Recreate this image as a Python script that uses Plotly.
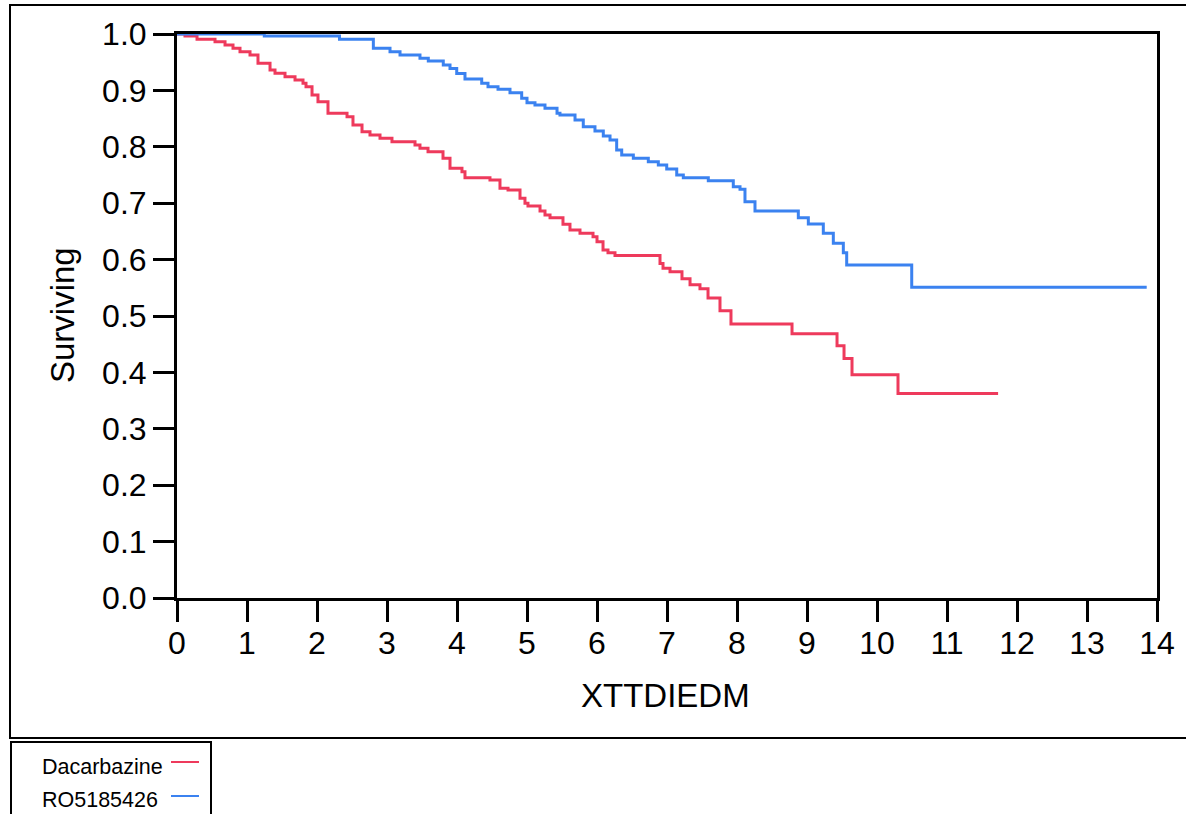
import plotly.graph_objects as go

# ---- data ----
dac_time = [0, 0.114, 0.286, 0.543, 0.686, 0.800, 0.900, 1.043, 1.157, 1.329, 1.400, 1.543,
            1.686, 1.800, 1.843, 1.929, 2.014, 2.157, 2.429, 2.514, 2.643, 2.757, 2.900,
            3.071, 3.400, 3.471, 3.586, 3.800, 3.900, 4.071, 4.114, 4.471, 4.614, 4.729,
            4.900, 4.971, 5.014, 5.186, 5.257, 5.329, 5.514, 5.614, 5.757, 5.943, 6.000,
            6.086, 6.157, 6.257, 6.900, 6.943, 7.043, 7.214, 7.329, 7.471, 7.586, 7.757,
            7.914, 8.786, 9.429, 9.529, 9.643, 10.300, 11.73]
dac_surv = [1.0, 0.9965, 0.9906, 0.9863, 0.9805, 0.9747, 0.9686, 0.9628, 0.948, 0.9362, 0.9303,
            0.9243, 0.9184, 0.9126, 0.9066, 0.8918, 0.880, 0.8594, 0.8534, 0.8387, 0.8268,
            0.8209, 0.8151, 0.8090, 0.8032, 0.7973, 0.7913, 0.7796, 0.7619, 0.7559, 0.7453,
            0.7411, 0.7264, 0.7234, 0.7087, 0.6998, 0.695, 0.6862, 0.6791, 0.6743, 0.6626,
            0.6525, 0.6466, 0.6407, 0.6318, 0.617, 0.6123, 0.6072, 0.5933, 0.5845, 0.5785,
            0.566, 0.5555, 0.5484, 0.5319, 0.5093, 0.4858, 0.4686, 0.4471, 0.4248, 0.3959,
            0.3624, 0.3624]

ro_time = [0, 1.247, 2.321, 2.805, 3.043, 3.186, 3.471, 3.590, 3.804, 3.900, 3.996, 4.114,
           4.353, 4.443, 4.586, 4.757, 4.924, 5.000, 5.114, 5.257, 5.429, 5.471, 5.686,
           5.804, 5.971, 6.090, 6.186, 6.281, 6.353, 6.519, 6.733, 6.876, 6.996, 7.139,
           7.233, 7.590, 7.947, 8.043, 8.114, 8.257, 8.876, 9.019, 9.233, 9.376, 9.519,
           9.567, 10.496, 13.853]
ro_surv = [1.0, 0.9965, 0.9905, 0.9747, 0.9686, 0.9628, 0.9569, 0.952, 0.945, 0.939, 0.930,
           0.920, 0.9126, 0.9066, 0.902, 0.896, 0.886, 0.878, 0.8741, 0.8682, 0.8594, 0.8564,
           0.8475, 0.8357, 0.828, 0.8191, 0.812, 0.7943, 0.7855, 0.7796, 0.7736, 0.7677,
           0.7606, 0.75, 0.7453, 0.7399, 0.7293, 0.7247, 0.7027, 0.6862, 0.6743, 0.6631,
           0.6466, 0.6289, 0.6123, 0.5904, 0.551, 0.551]

series_names = ["Dacarbazine", "RO5185426"]
series_colors = ["#EE3A5C", "#3B82F0"]
x_ticks = list(range(0, 15))
y_ticks = [round(i * 0.1, 1) for i in range(11)]

# ---- layout geometry ----
W, H = 1186, 814
L, R, T, B = 177, 1157, 34, 598  # plot area in pixels


def px(x):
    return (x - L) / (R - L)


def py(y):
    return (B - y) / (B - T)


FONT = "Liberation Sans, Arial, sans-serif"

fig = go.Figure()
fig.add_trace(go.Scatter(x=dac_time, y=dac_surv, mode="lines", line_shape="hv",
                         line=dict(color=series_colors[0], width=3), name=series_names[0],
                         showlegend=False))
fig.add_trace(go.Scatter(x=ro_time, y=ro_surv, mode="lines", line_shape="hv",
                         line=dict(color=series_colors[1], width=3), name=series_names[1],
                         showlegend=False))

axis_common = dict(showline=True, linecolor="black", linewidth=3, mirror=True,
                   ticks="outside", ticklen=21, tickwidth=3, tickcolor="black",
                   showgrid=False, zeroline=False,
                   tickfont=dict(family=FONT, size=32, color="black"))

fig.update_xaxes(range=[0, 14], tickvals=x_ticks, ticktext=[str(v) for v in x_ticks],
                 ticklabelstandoff=-6, **axis_common)
fig.update_yaxes(range=[0, 1], tickvals=y_ticks, ticktext=[f"{v:.1f}" for v in y_ticks],
                 **axis_common)

shapes = [
    # outer frame
    dict(type="rect", xref="paper", yref="paper", x0=px(10), x1=px(1195), y0=py(738), y1=py(5),
         line=dict(color="black", width=2), layer="below"),
    # legend box
    dict(type="rect", xref="paper", yref="paper", x0=px(11), x1=px(211), y0=py(830), y1=py(742),
         line=dict(color="black", width=2)),
    # legend swatches
    dict(type="line", xref="paper", yref="paper", x0=px(171), x1=px(199), y0=py(762), y1=py(762),
         line=dict(color=series_colors[0], width=2)),
    dict(type="line", xref="paper", yref="paper", x0=px(171), x1=px(199), y0=py(796), y1=py(796),
         line=dict(color=series_colors[1], width=2)),
]

annotations = [
    dict(text="XTTDIEDM", xref="paper", yref="paper", x=px(665), y=py(695), showarrow=False,
         xanchor="center", yanchor="middle", font=dict(family=FONT, size=33, color="black")),
    dict(text="Surviving", xref="paper", yref="paper", x=px(62), y=py(315), showarrow=False,
         textangle=-90, xanchor="center", yanchor="middle",
         font=dict(family=FONT, size=33, color="black")),
    dict(text=series_names[0], xref="paper", yref="paper", x=px(40), y=py(767), showarrow=False,
         xanchor="left", yanchor="middle", font=dict(family=FONT, size=21.5, color="black")),
    dict(text=series_names[1], xref="paper", yref="paper", x=px(40), y=py(800), showarrow=False,
         xanchor="left", yanchor="middle", font=dict(family=FONT, size=21.5, color="black")),
]

fig.update_layout(width=W, height=H, margin=dict(l=L, r=W - R, t=T, b=H - B),
                  paper_bgcolor="white", plot_bgcolor="white",
                  shapes=shapes, annotations=annotations, showlegend=False)

fig.write_html("out.html", config={"displayModeBar": False},
               post_script="document.body.style.margin='0px';"
                           "document.body.style.overflow='hidden';")
